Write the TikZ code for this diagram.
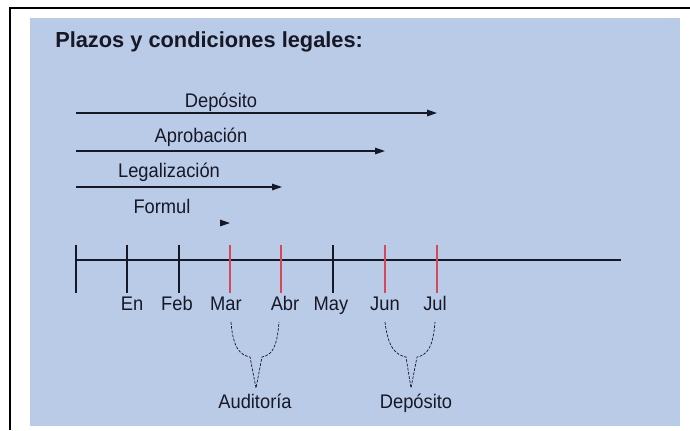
\documentclass[tikz,border=0pt]{standalone}
\usepackage{fontspec}
\setmainfont{Liberation Sans}
\newfontfamily\narrowsans[FakeStretch=0.93]{Liberation Sans}
\usepackage{tikz}
\usetikzlibrary{arrows.meta}
\definecolor{panelblue}{RGB}{186,203,232}
\definecolor{tickred}{RGB}{214,72,86}
\definecolor{inkdark}{RGB}{22,24,38}
\tikzset{
  lbl/.style={font=\narrowsans\fontsize{14}{16}\selectfont, text=inkdark, inner sep=0pt, anchor=base},
  span/.style={line width=0.8pt, color=inkdark, -{Triangle[length=7pt,width=4.6pt]}},
  tick/.style={line width=1.4pt, color=inkdark},
  redtick/.style={line width=1.4pt, color=tickred},
  brace/.style={line width=0.5pt, color=inkdark, dash pattern=on 2pt off 1pt}
}

\begin{document}
\begin{tikzpicture}[x=0.025cm, y=-0.025cm]
			%%%%% START %%%%%
			\useasboundingbox (0, 0) rectangle (690, 430);
			
			\draw[line width=1.4pt] (10, 430) -- (10, 8) -- (690, 8);
			\fill[panelblue] (30, 18) rectangle (680, 426);
			
			\node[anchor=base west, inner sep=0pt, text=inkdark, font=\bfseries\fontsize{15.5}{18}\selectfont] (title) at (55, 47) {Plazos y condiciones legales:};
			
			% periodos
			\coordinate (s1) at (76, 113);
			\coordinate (e1) at (437, 113);
			\coordinate (s2) at (76, 151);
			\coordinate (e2) at (385, 151);
			\coordinate (s3) at (76, 187);
			\coordinate (e3) at (282, 187);
			\coordinate (s4) at (224, 223);
			\coordinate (e4) at (230, 223);
			\draw[span] (s1) -- (e1);
			\draw[span] (s2) -- (e2);
			\draw[span] (s3) -- (e3);
			\draw[span] (s4) -- (e4);
			\node[lbl] (dep) at (221, 107) {Depósito};
			\node[lbl] (apr) at (201, 142) {Aprobación};
			\node[lbl] (leg) at (169, 177) {Legalización};
			\node[lbl] (form) at (162, 213) {Formul};
			
			% eje de meses
			\coordinate (t0) at (76, 260);
			\coordinate (tend) at (621, 260);
			\draw[line width=0.8pt, color=inkdark] (t0) -- (tend);
			\draw[tick] (76, 245) -- (76, 293);
			\draw[tick] (127, 245) -- (127, 293);
			\draw[tick] (179, 245) -- (179, 293);
			\draw[redtick] (230, 245) -- (230, 293);
			\draw[redtick] (281, 245) -- (281, 293);
			\draw[tick] (333, 245) -- (333, 293);
			\draw[redtick] (385, 245) -- (385, 293);
			\draw[redtick] (437, 245) -- (437, 293);
			
			\node[lbl] (en) at (132, 310) {En};
			\node[lbl] (feb) at (177, 310) {Feb};
			\node[lbl] (mar) at (226, 310) {Mar};
			\node[lbl] (abr) at (285, 310) {Abr};
			\node[lbl] (may) at (331, 310) {May};
			\node[lbl] (jun) at (385, 310) {Jun};
			\node[lbl] (jul) at (435, 310) {Jul};
			
			% llaves
			\draw[brace] (231, 322) .. controls (233, 348) and (240, 355) .. (250, 357) -- (256, 388) -- (262, 357) .. controls (272, 355) and (277, 348) .. (279, 322);
			\draw[brace] (385, 322) .. controls (388, 348) and (396, 355) .. (406, 357) -- (411, 388) -- (417, 357) .. controls (427, 355) and (433, 348) .. (435, 322);
			\node[lbl] (aud) at (255, 408) {Auditoría};
			\node[lbl] (depb) at (416, 408) {Depósito};
			%%%%% END %%%%%
\end{tikzpicture}
\end{document}
